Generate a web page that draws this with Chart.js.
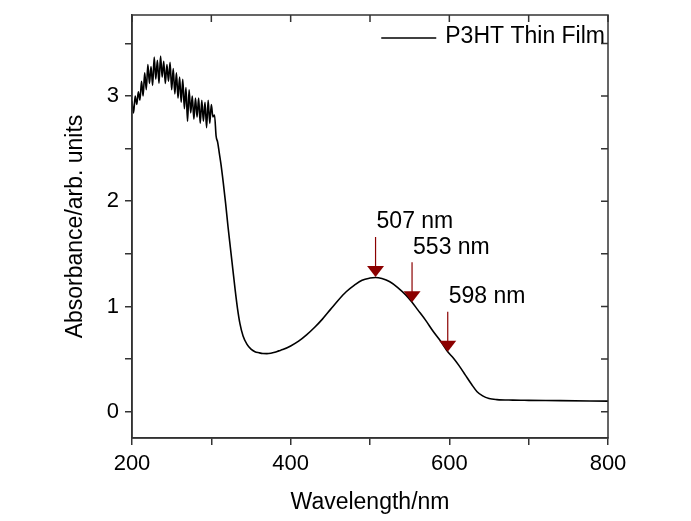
<!DOCTYPE html>
<html>
<head>
<meta charset="utf-8">
<script src="https://cdn.jsdelivr.net/npm/chart.js@4"></script>
<style>
  body { margin: 0; background: #fff; }
  #wrap { width: 691px; height: 521px; }
</style>
</head>
<body>
<div id="wrap"><canvas id="uvChart" width="691" height="521"></canvas></div>
<script>
const wavelength = [
    200, 202, 204, 206, 208, 210, 212, 214, 216, 218,
    220, 222, 224, 226, 228, 230, 232, 234, 236, 238,
    240, 242, 244, 246, 248, 250, 252, 254, 256, 258,
    260, 262, 264, 266, 268, 270, 272, 274, 276, 278,
    280, 282, 284, 286, 288, 290, 292, 294, 296, 298,
    300, 302, 304, 306, 308, 310,
    312, 315, 318, 321, 324, 327, 330, 333, 336, 340,
    345, 350, 355, 360, 365, 370, 375, 380, 385, 390,
    400, 410, 420, 430, 440, 450, 460, 470, 480, 490,
    500, 507, 515, 525, 535, 545, 553, 560, 570, 580,
    590, 598, 605, 612, 620, 628, 635, 642, 650, 660,
    680, 700, 740, 800
];
const absorbance = [
    2.95, 2.84, 3.00, 2.92, 3.04, 2.96, 3.14, 3.00, 3.22, 3.06,
    3.30, 3.12, 3.28, 3.10, 3.37, 3.16, 3.34, 3.12, 3.38, 3.18,
    3.33, 3.12, 3.30, 3.14, 3.32, 3.06, 3.26, 3.02, 3.22, 2.98,
    3.18, 2.94, 3.16, 2.88, 3.08, 2.76, 3.06, 2.84, 3.00, 2.78,
    2.98, 2.80, 2.98, 2.74, 2.96, 2.76, 2.94, 2.70, 2.96, 2.74,
    2.92, 2.80, 2.82, 2.62, 2.56, 2.46,
    2.36, 2.18, 1.98, 1.76, 1.56, 1.36, 1.16, 0.98, 0.84, 0.72,
    0.64, 0.595, 0.57, 0.56, 0.553, 0.552, 0.556, 0.565, 0.578, 0.59,
    0.625, 0.67, 0.73, 0.80, 0.88, 0.97, 1.06, 1.14, 1.20, 1.25,
    1.27, 1.275, 1.265, 1.235, 1.18, 1.11, 1.04, 0.97, 0.87, 0.76,
    0.66, 0.57, 0.51, 0.44, 0.35, 0.26, 0.19, 0.15, 0.125, 0.115,
    0.11, 0.108, 0.105, 0.10
];

// arrow markers
const markerNm = [507, 553, 598];
const markerAbs = [1.28, 1.04, 0.57];
const markerLabels = ['507 nm', '553 nm', '598 nm'];

const seriesName = 'P3HT Thin Film';
const fontFamily = '"Liberation Sans", Arial, sans-serif';
const frameColor = '#333';

const points = wavelength.map((w, i) => ({ x: w, y: absorbance[i] }));

// frame, inner ticks, arrows and legend
const extras = {
    id: 'extras',
    afterDraw(chart) {
        const { ctx, chartArea: a, scales: { x, y } } = chart;
        ctx.save();
        ctx.strokeStyle = frameColor;
        ctx.lineWidth = 1.5;
        ctx.strokeRect(a.left, a.top, a.right - a.left, a.bottom - a.top);

        ctx.beginPath();
        x.ticks.forEach(t => {
            const px = x.getPixelForValue(t.value);
            ctx.moveTo(px, a.top);
            ctx.lineTo(px, a.top + 7);
        });
        y.ticks.forEach(t => {
            const py = y.getPixelForValue(t.value);
            ctx.moveTo(a.right, py);
            ctx.lineTo(a.right - 7, py);
        });
        ctx.stroke();

        // arrows
        ctx.font = '23px ' + fontFamily;
        ctx.textBaseline = 'middle';
        ctx.textAlign = 'left';
        markerNm.forEach((nm, i) => {
            const px = x.getPixelForValue(nm);
            const tip = y.getPixelForValue(markerAbs[i]);
            ctx.strokeStyle = '#8B0000';
            ctx.fillStyle = '#8B0000';
            ctx.lineWidth = 1.2;
            ctx.beginPath();
            ctx.moveTo(px, tip - 10);
            ctx.lineTo(px, tip - 40);
            ctx.stroke();
            ctx.beginPath();
            ctx.moveTo(px, tip);
            ctx.lineTo(px - 8.5, tip - 11);
            ctx.lineTo(px + 8.5, tip - 11);
            ctx.closePath();
            ctx.fill();
            ctx.fillStyle = '#000';
            ctx.fillText(markerLabels[i], px + 1, tip - 55);
        });

        // legend
        const tw = ctx.measureText(seriesName).width;
        const tx = a.right - 3 - tw;
        const ly = a.top + 22;
        ctx.fillStyle = '#000';
        ctx.fillText(seriesName, tx, ly);
        ctx.strokeStyle = '#000';
        ctx.lineWidth = 1.5;
        ctx.beginPath();
        ctx.moveTo(tx - 64, ly + 1);
        ctx.lineTo(tx - 9, ly + 1);
        ctx.stroke();
        ctx.restore();
    }
};

new Chart(document.getElementById('uvChart'), {
    type: 'line',
    data: {
        datasets: [{
            label: seriesName,
            data: points,
            borderColor: '#000',
            borderWidth: 1.6,
            pointRadius: 0,
            cubicInterpolationMode: 'monotone',
            fill: false
        }]
    },
    options: {
        responsive: false,
        animation: false,
        layout: { padding: { left: 62, right: 83, top: 15, bottom: 0 } },
        plugins: {
            legend: { display: false },
            tooltip: { enabled: false }
        },
        scales: {
            x: {
                type: 'linear',
                min: 200,
                max: 800,
                afterFit: s => { s.height = 83; s.paddingLeft = 0; s.paddingRight = 0; },
                grid: { drawOnChartArea: false, tickLength: 7, color: frameColor, lineWidth: 1.5 },
                border: { color: frameColor, width: 1.5 },
                ticks: {
                    stepSize: 100,
                    padding: 6,
                    color: '#000',
                    font: { family: fontFamily, size: 22 },
                    maxRotation: 0,
                    autoSkip: false,
                    callback: v => (v % 200 === 0 ? v : '')
                },
                title: {
                    display: true,
                    text: 'Wavelength/nm',
                    color: '#000',
                    font: { family: fontFamily, size: 23 },
                    padding: { top: 0, bottom: 5 }
                }
            },
            y: {
                min: -0.25,
                max: 3.77,
                afterFit: s => { s.width = 70; s.paddingTop = 0; s.paddingBottom = 0; },
                grid: { drawOnChartArea: false, tickLength: 7, color: frameColor, lineWidth: 1.5 },
                border: { color: frameColor, width: 1.5 },
                ticks: {
                    stepSize: 0.5,
                    includeBounds: false,
                    padding: 6,
                    color: '#000',
                    font: { family: fontFamily, size: 22 },
                    autoSkip: false,
                    callback: v => (Number.isInteger(v) ? v : '')
                },
                title: {
                    display: true,
                    text: 'Absorbance/arb. units',
                    color: '#000',
                    font: { family: fontFamily, size: 23 },
                    padding: { top: 0, bottom: 0 }
                }
            }
        }
    },
    plugins: [extras]
});
</script>
</body>
</html>
